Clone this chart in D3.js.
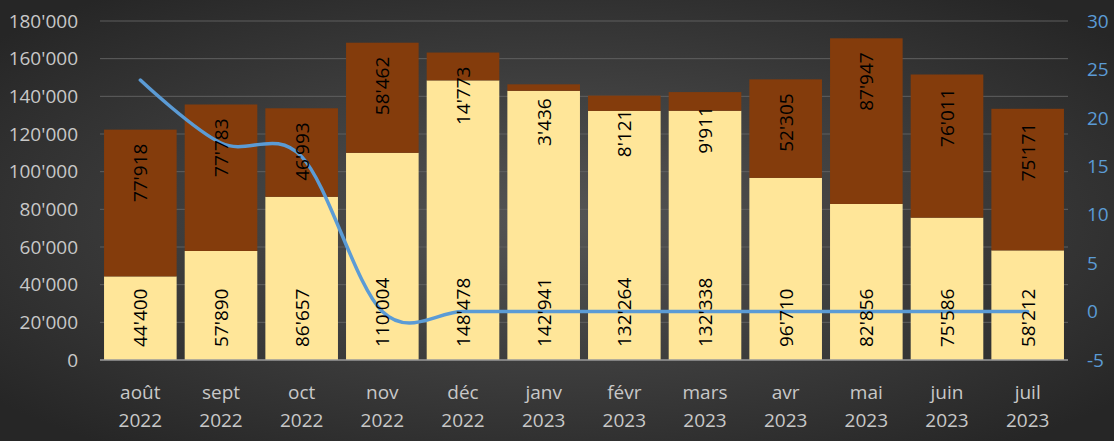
<!DOCTYPE html>
<html>
<head>
<meta charset="utf-8">
<script src="https://cdn.jsdelivr.net/npm/d3@7"></script>
<style>
  body { margin: 0; background: #2a2a2a; }
  svg { display: block; }
</style>
</head>
<body>
<svg id="chart" width="1114" height="441"></svg>
<script>
// months, two lines each
const months = ["août", "sept", "oct", "nov", "déc", "janv", "févr", "mars", "avr", "mai", "juin", "juil"];
const years = ["2022", "2022", "2022", "2022", "2022", "2023", "2023", "2023", "2023", "2023", "2023", "2023"];
const lower = [44400, 57890, 86657, 110004, 148478, 142941, 132264, 132338, 96710, 82856, 75586, 58212];
const upper = [77918, 77783, 46993, 58462, 14773, 3436, 8121, 9911, 52305, 87947, 76011, 75171];
const lineVals = [23.9, 17.4, 16.0, 0, 0, 0, 0, 0, 0, 0, 0, 0];
const leftTicks = [0, 20000, 40000, 60000, 80000, 100000, 120000, 140000, 160000, 180000];
const rightTicks = [-5, 0, 5, 10, 15, 20, 25, 30];

const W = 1114, H = 441;
const svg = d3.select("#chart");
const font = "'Open Sans', sans-serif";

// background gradient
const defs = svg.append("defs");
const grad = defs.append("radialGradient")
    .attr("id", "bg")
    .attr("cx", "50%").attr("cy", "50%").attr("r", "65%");
grad.append("stop").attr("offset", "0%").attr("stop-color", "#555555");
grad.append("stop").attr("offset", "100%").attr("stop-color", "#262626");
svg.append("rect").attr("width", W).attr("height", H).attr("fill", "url(#bg)");

const x = d3.scaleBand()
    .domain(months)
    .range([100, 1068])
    .paddingInner(0.1)
    .paddingOuter(0.05);
const y = d3.scaleLinear().domain([0, 180000]).range([360, 21]);
const y2 = d3.scaleLinear().domain([-5, 30]).range([360, 21]);

const fmt = v => d3.format(",")(v).replace(/,/g, "'");

// gridlines
svg.append("g")
    .selectAll("line")
    .data(leftTicks.slice(1))
    .join("line")
    .attr("x1", 100).attr("x2", 1068)
    .attr("y1", d => y(d)).attr("y2", d => y(d))
    .style("stroke", "#5f5f5f")
    .style("stroke-width", 1);

// left axis labels
svg.append("g")
    .selectAll("text")
    .data(leftTicks)
    .join("text")
    .attr("x", 78)
    .attr("y", d => y(d))
    .attr("dy", "0.35em")
    .attr("text-anchor", "end")
    .style("font-family", font)
    .style("font-size", "19px")
    .style("fill", "#c8c8c8")
    .text(d => fmt(d));

// right axis labels
svg.append("g")
    .selectAll("text")
    .data(rightTicks)
    .join("text")
    .attr("x", 1087)
    .attr("y", d => y2(d))
    .attr("dy", "0.35em")
    .attr("text-anchor", "start")
    .style("font-family", font)
    .style("font-size", "19px")
    .style("fill", "#5b9bd5")
    .text(d => d);

// bars
const rows = months.map((m, i) => ({ m, lo: lower[i], up: upper[i] }));
svg.append("g")
    .selectAll("rect")
    .data(rows)
    .join("rect")
    .attr("x", d => x(d.m))
    .attr("width", x.bandwidth())
    .attr("y", d => y(d.lo))
    .attr("height", d => y(0) - y(d.lo))
    .style("fill", "#ffe699");
svg.append("g")
    .selectAll("rect")
    .data(rows)
    .join("rect")
    .attr("x", d => x(d.m))
    .attr("width", x.bandwidth())
    .attr("y", d => y(d.lo + d.up))
    .attr("height", d => y(d.lo) - y(d.lo + d.up))
    .style("fill", "#843c0c");

// baseline
svg.append("line")
    .attr("x1", 100).attr("x2", 1068)
    .attr("y1", y(0)).attr("y2", y(0))
    .style("stroke", "#9a9a9a")
    .style("stroke-width", 1.5);

// line series (smoothed)
const line = d3.line()
    .x((d, i) => x(months[i]) + x.bandwidth() / 2)
    .y(d => y2(d))
    .curve(d3.curveCatmullRom.alpha(0));
svg.append("path")
    .datum(lineVals)
    .attr("d", line)
    .style("fill", "none")
    .style("stroke", "#5b9bd5")
    .style("stroke-width", 3.5)
    .style("stroke-linecap", "round");

// value labels, rotated
const labels = svg.append("g");
rows.forEach(d => {
    const cx = x(d.m) + x.bandwidth() / 2;
    labels.append("text")
        .attr("transform", `translate(${cx + 7},${y(0) - 13}) rotate(-90)`)
        .attr("text-anchor", "start")
        .style("font-family", font)
        .style("font-size", "19px")
        .style("fill", "#000")
        .text(fmt(d.lo));
    labels.append("text")
        .attr("transform", `translate(${cx + 7},${y(d.lo + d.up) + 14}) rotate(-90)`)
        .attr("text-anchor", "end")
        .style("font-family", font)
        .style("font-size", "19px")
        .style("fill", "#000")
        .text(fmt(d.up));
});

// x axis labels
const xl = svg.append("g");
months.forEach((m, i) => {
    const cx = x(m) + x.bandwidth() / 2;
    xl.append("text")
        .attr("x", cx).attr("y", 399)
        .attr("text-anchor", "middle")
        .style("font-family", font)
        .style("font-size", "19px")
        .style("fill", "#c8c8c8")
        .text(m);
    xl.append("text")
        .attr("x", cx).attr("y", 427)
        .attr("text-anchor", "middle")
        .style("font-family", font)
        .style("font-size", "19px")
        .style("fill", "#c8c8c8")
        .text(years[i]);
});
</script>
</body>
</html>
